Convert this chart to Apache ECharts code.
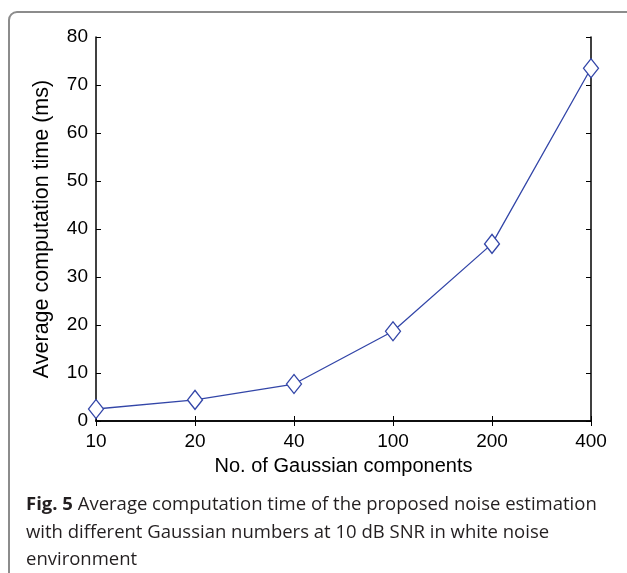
<!DOCTYPE html>
<html>
<head>
<meta charset="utf-8">
<script src="https://cdn.jsdelivr.net/npm/echarts@6/dist/echarts.min.js"></script>
<style>
html, body { margin: 0; padding: 0; background: #fff; }
#chart { width: 627px; height: 573px; }
</style>
</head>
<body>
<div id="chart"></div>
<script>
var components = ['10', '20', '40', '100', '200', '400'];
var timeMs = [2.5, 4.4, 7.7, 18.7, 36.9, 73.5];
var yTicks = [0, 10, 20, 30, 40, 50, 60, 70, 80];

var lineColor = '#3346a8';
var labelFont = '"Liberation Sans", Arial, sans-serif';
var capFont = '"Open Sans", sans-serif';

var myChart = echarts.init(document.getElementById('chart'));
myChart.setOption({
	animation: false,
	backgroundColor: '#fff',
	grid: {
		left: 96,
		right: 36,
		top: 37,
		bottom: 152
	},
	xAxis: [{
		type: 'category',
		data: components,
		boundaryGap: false,
		position: 'bottom',
		name: 'No. of Gaussian components',
		nameLocation: 'middle',
		nameGap: 35,
		nameTextStyle: { color: '#000', fontSize: 20, fontFamily: labelFont },
		axisLine: { lineStyle: { color: '#000', width: 1.5 } },
		axisTick: { inside: true, length: 5, lineStyle: { color: '#000' } },
		axisLabel: { color: '#000', fontSize: 19, fontFamily: labelFont, margin: 11 },
		splitLine: { show: false }
	}, {
		type: 'category',
		data: components,
		boundaryGap: false,
		position: 'top',
		axisLine: { lineStyle: { color: '#000', width: 1.5 } },
		axisTick: { inside: true, length: 5, lineStyle: { color: '#000' } },
		axisLabel: { show: false },
		splitLine: { show: false }
	}],
	yAxis: [{
		type: 'value',
		min: yTicks[0],
		max: yTicks[yTicks.length - 1],
		interval: 10,
		position: 'left',
		name: 'Average computation time (ms)',
		nameLocation: 'middle',
		nameGap: 43,
		nameTextStyle: { color: '#000', fontSize: 21.5, fontFamily: labelFont },
		axisLine: { show: true, lineStyle: { color: '#000', width: 1.5 } },
		axisTick: { show: true, inside: true, length: 5, lineStyle: { color: '#000' } },
		axisLabel: { color: '#000', fontSize: 19, fontFamily: labelFont, margin: 8 },
		splitLine: { show: false }
	}, {
		type: 'value',
		min: yTicks[0],
		max: yTicks[yTicks.length - 1],
		interval: 10,
		position: 'right',
		axisLine: { show: true, lineStyle: { color: '#000', width: 1.5 } },
		axisTick: { show: true, inside: true, length: 5, lineStyle: { color: '#000' } },
		axisLabel: { show: false },
		splitLine: { show: false }
	}],
	series: [{
		type: 'line',
		data: timeMs,
		xAxisIndex: 0,
		yAxisIndex: 0,
		symbol: 'diamond',
		symbolSize: [15, 19],
		showAllSymbol: true,
		lineStyle: { color: lineColor, width: 1.3 },
		itemStyle: { color: '#fff', borderColor: lineColor, borderWidth: 1.3 },
		z: 5
	}],
	graphic: [{
		// figure frame: only top and left edges are visible, top-left corner rounded
		type: 'rect',
		shape: { x: 9, y: 12, width: 800, height: 800, r: [8, 0, 0, 0] },
		style: { fill: 'none', stroke: '#8c8c8c', lineWidth: 2 },
		silent: true
	}, {
		type: 'text',
		left: 26,
		top: 491,
		style: {
			text: '{b|Fig. 5} Average computation time of the proposed noise estimation\nwith different Gaussian numbers at 10 dB SNR in white noise\nenvironment',
			fontFamily: capFont,
			fontSize: 18.5,
			lineHeight: 27.5,
			fill: '#231f20',
			rich: {
				b: { fontWeight: 'bold', fontSize: 18.5, fontFamily: capFont, lineHeight: 27.5 }
			}
		}
	}]
});
</script>
</body>
</html>
